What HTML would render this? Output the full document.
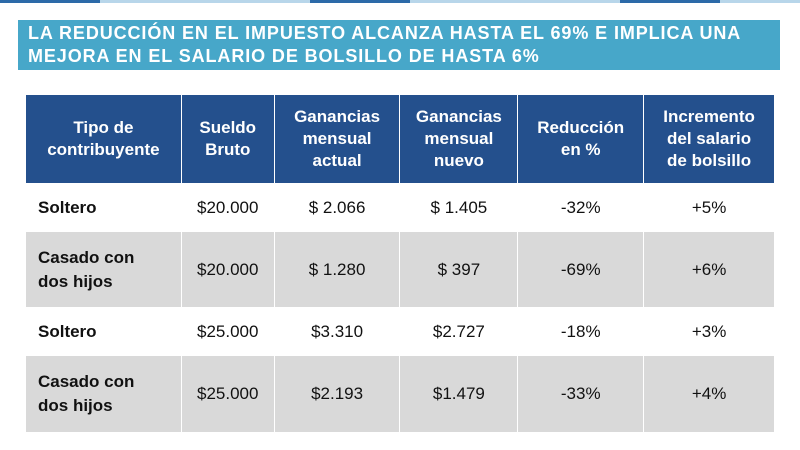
<!DOCTYPE html>
<html><head><meta charset="utf-8"><style>
body{margin:0;width:800px;height:450px;background:#fff;font-family:"Liberation Sans",Arial,sans-serif;position:relative;overflow:hidden}
.strip{position:absolute;top:0;height:3px}
#title{position:absolute;left:18px;top:20px;width:762px;height:50px;background:#47a7c9;color:#fff;font-weight:bold;font-size:18px;line-height:23px;letter-spacing:0.9px;padding:2px 0 0 10px;box-sizing:border-box;white-space:nowrap}
table{position:absolute;left:25px;top:94px;border-collapse:collapse;width:750px}
td,th{border:1px solid #fff;padding:0;text-align:center;font-size:17px;color:#111}
th{background:#24508d;color:#fff;font-size:17px;line-height:22px;height:88px;font-weight:bold}
td:first-child{text-align:left;font-weight:bold;padding-left:12px;line-height:24px}
tr.g td{background:#d9d9d9}
</style></head><body>
<div class="strip" style="left:0;width:100px;background:#2c6aa8"></div>
<div class="strip" style="left:100px;width:210px;background:#b8d6ea"></div>
<div class="strip" style="left:310px;width:100px;background:#2c6aa8"></div>
<div class="strip" style="left:410px;width:210px;background:#b8d6ea"></div>
<div class="strip" style="left:620px;width:100px;background:#2c6aa8"></div>
<div class="strip" style="left:720px;width:80px;background:#b8d6ea"></div>
<div id="title">LA REDUCCIÓN EN EL IMPUESTO ALCANZA HASTA EL 69% E IMPLICA UNA<br>MEJORA EN EL SALARIO DE BOLSILLO DE HASTA 6%</div>
<table>
<colgroup><col style="width:156px"><col style="width:93px"><col style="width:126px"><col style="width:118px"><col style="width:126px"><col style="width:131px"></colgroup>
<tr><th>Tipo de<br>contribuyente</th><th>Sueldo<br>Bruto</th><th>Ganancias<br>mensual<br>actual</th><th>Ganancias<br>mensual<br>nuevo</th><th>Reducción<br>en %</th><th>Incremento<br>del salario<br>de bolsillo</th></tr>
<tr style="height:48px"><td>Soltero</td><td>$20.000</td><td>$ 2.066</td><td>$ 1.405</td><td>-32%</td><td>+5%</td></tr>
<tr class="g" style="height:76px"><td>Casado con<br>dos hijos</td><td>$20.000</td><td>$ 1.280</td><td>$ 397</td><td>-69%</td><td>+6%</td></tr>
<tr style="height:48px"><td>Soltero</td><td>$25.000</td><td>$3.310</td><td>$2.727</td><td>-18%</td><td>+3%</td></tr>
<tr class="g" style="height:77px"><td>Casado con<br>dos hijos</td><td>$25.000</td><td>$2.193</td><td>$1.479</td><td>-33%</td><td>+4%</td></tr>
</table>
</body></html>
